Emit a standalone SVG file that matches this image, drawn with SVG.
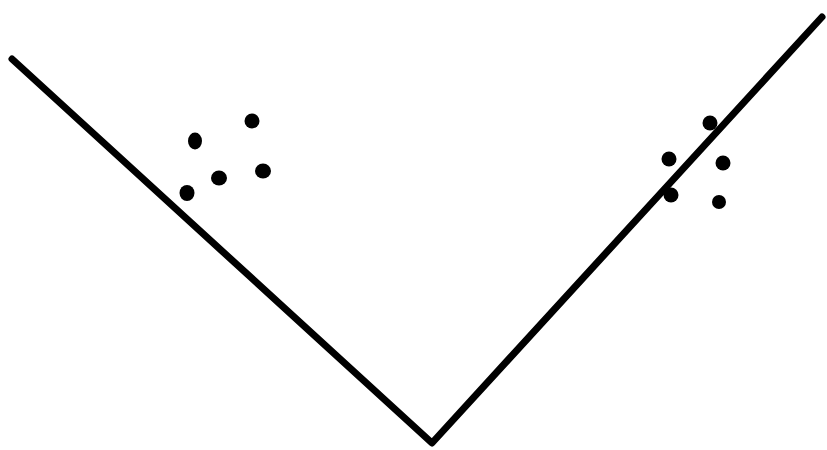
<svg xmlns="http://www.w3.org/2000/svg" width="827" height="450" viewBox="0 0 827 450">
<style>
.ln{fill:none;stroke:#000;stroke-width:7;stroke-linecap:round;stroke-linejoin:round}
.dot{fill:#000}
</style>
<rect width="827" height="450" fill="#fff"/>
<g id="lines">
<polyline class="ln" points="12,59 432,443 822,17"/>
</g>
<g id="dots-left">
<ellipse class="dot" cx="252" cy="121" rx="7.5" ry="7.5"/>
<ellipse class="dot" cx="195" cy="141" rx="7" ry="8.5"/>
<ellipse class="dot" cx="263" cy="171" rx="8" ry="7.5"/>
<ellipse class="dot" cx="219" cy="178" rx="8" ry="7.5"/>
<ellipse class="dot" cx="187" cy="193" rx="7.5" ry="8"/>
</g>
<g id="dots-right">
<ellipse class="dot" cx="710" cy="123" rx="7.5" ry="7.5"/>
<ellipse class="dot" cx="669" cy="159" rx="7.5" ry="7.5"/>
<ellipse class="dot" cx="723" cy="163" rx="7.5" ry="7.5"/>
<ellipse class="dot" cx="671" cy="195" rx="7.5" ry="7.5"/>
<ellipse class="dot" cx="719" cy="202" rx="7" ry="7"/>
</g>
</svg>
